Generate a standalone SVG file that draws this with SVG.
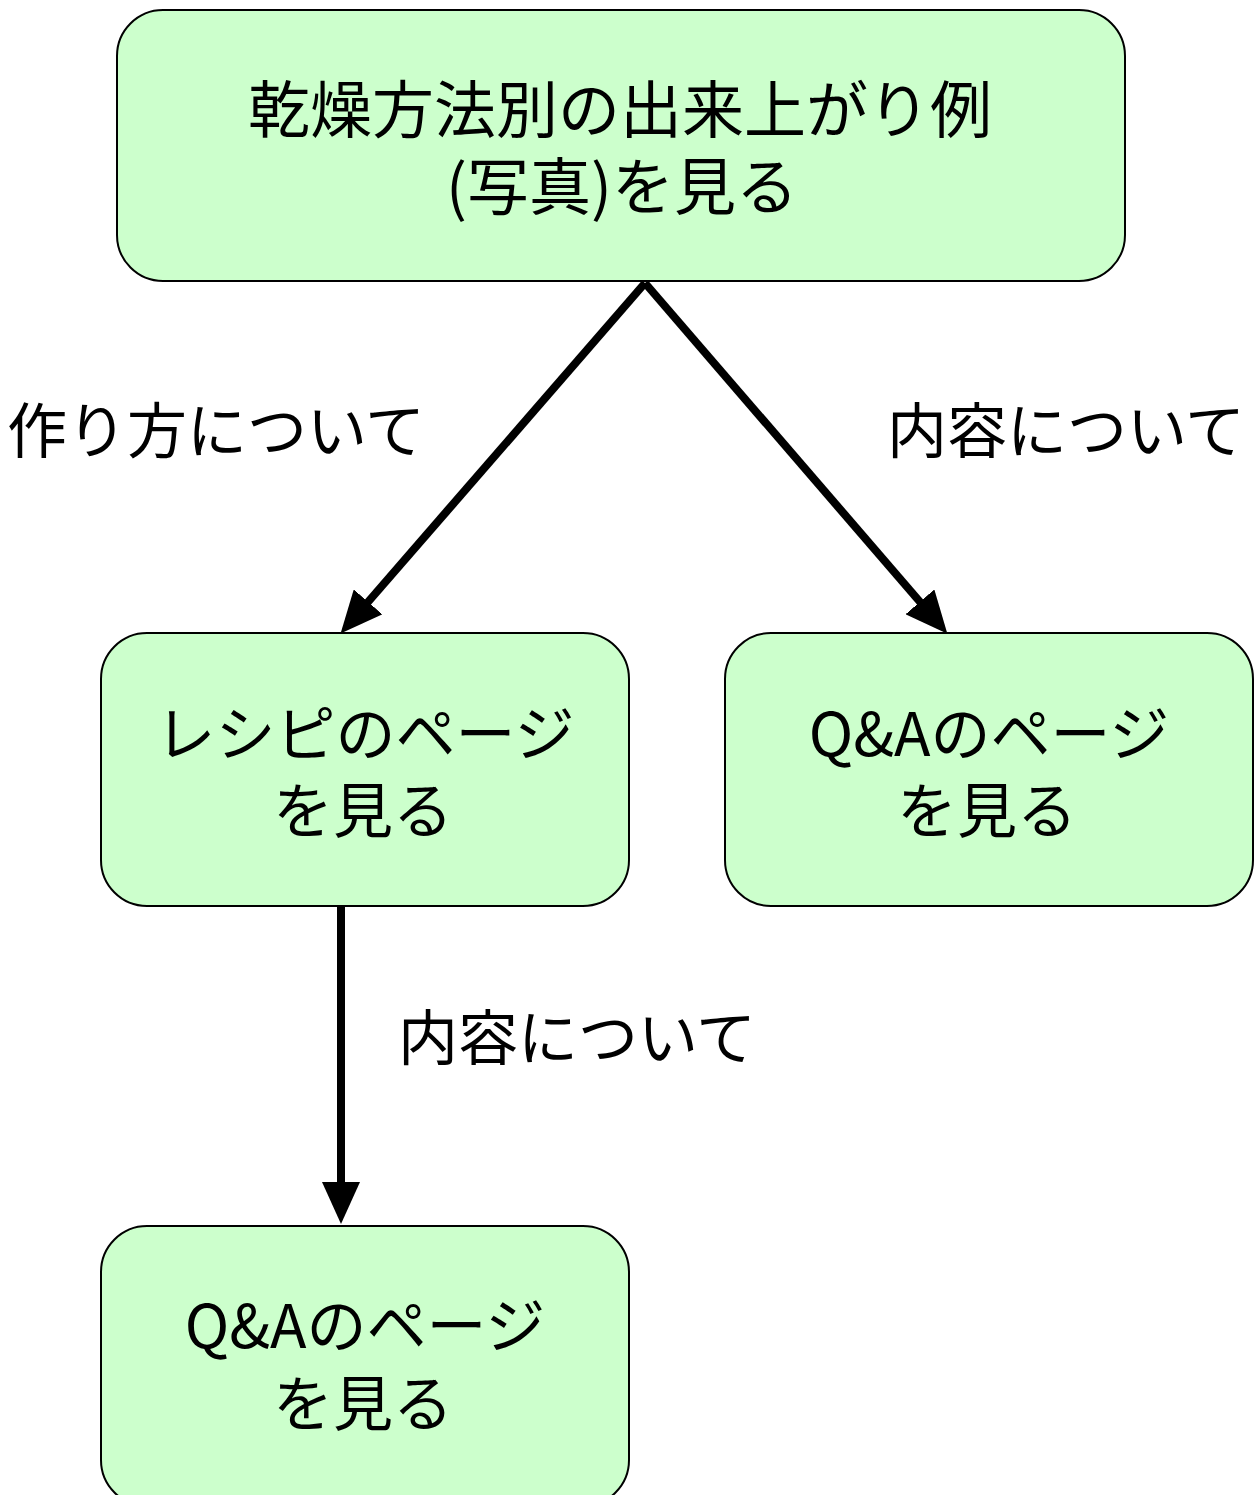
<svg xmlns="http://www.w3.org/2000/svg" width="1260" height="1495" viewBox="0 0 1260 1495">
<style>
.box{fill:#ccffcc;stroke:#000;stroke-width:2}
.t{font-family:"Noto Sans CJK JP","Noto Sans",sans-serif;fill:#000;text-anchor:middle}
.n{font-size:60px}
.h{font-size:62px}
.conn{stroke:#000;stroke-width:8;fill:none}
</style>
<defs>
<marker id="ah" markerUnits="userSpaceOnUse" viewBox="0 0 42 38" refX="20" refY="19" markerWidth="42" markerHeight="38" orient="auto">
<path d="M0,0 L42,19 L0,38 z" fill="#000"/>
</marker>
</defs>
<g id="connectors">
<line class="conn" x1="645" y1="283" x2="355" y2="617" marker-end="url(#ah)"/>
<line class="conn" x1="645" y1="283" x2="933" y2="617" marker-end="url(#ah)"/>
<line class="conn" x1="341" y1="906" x2="341" y2="1202" marker-end="url(#ah)"/>
<text class="t n" x="216" y="453">作り方について</text>
<text class="t n" x="1066" y="453">内容について</text>
<text class="t n" x="577" y="1060">内容について</text>
</g>
<g id="top">
<rect class="box" x="117" y="10" width="1008" height="271" rx="46"/>
<text class="t h"><tspan x="620" y="133">乾燥方法別の出来上がり例</tspan><tspan x="622" y="210">(写真)を見る</tspan></text>
</g>
<g id="recipe">
<rect class="box" x="101" y="633" width="528" height="273" rx="46"/>
<text class="t n"><tspan x="365" y="756">レシピのページ</tspan><tspan x="363" y="833">を見る</tspan></text>
</g>
<g id="qa1">
<rect class="box" x="725" y="633" width="528" height="273" rx="46"/>
<text class="t n"><tspan x="989" y="756">Q&amp;Aのページ</tspan><tspan x="987" y="833">を見る</tspan></text>
</g>
<g id="qa2">
<rect class="box" x="101" y="1226" width="528" height="280" rx="46"/>
<text class="t n"><tspan x="365" y="1348">Q&amp;Aのページ</tspan><tspan x="363" y="1426">を見る</tspan></text>
</g>
</svg>
